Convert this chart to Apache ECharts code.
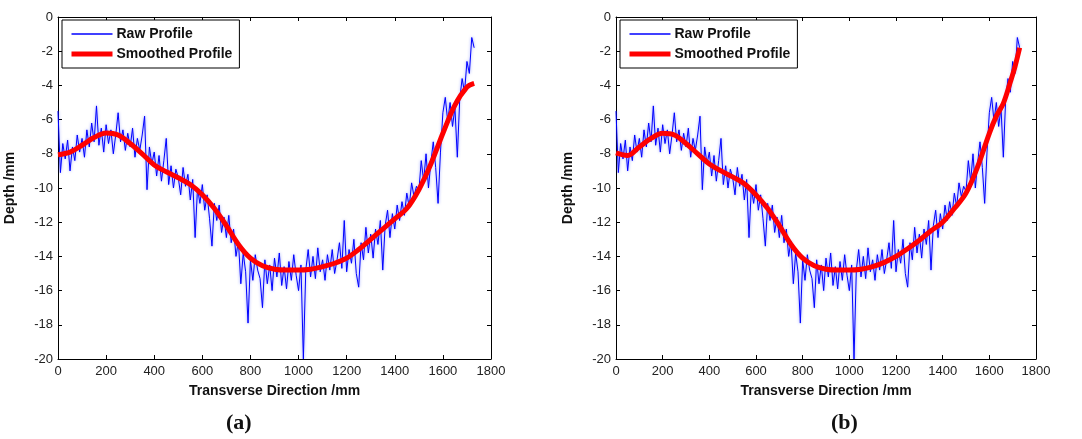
<!DOCTYPE html>
<html>
<head>
<meta charset="utf-8">
<script src="https://cdn.jsdelivr.net/npm/echarts@6/dist/echarts.min.js"></script>
<style>
html,body{margin:0;padding:0;background:#fff;}
#c{width:1082px;height:439px;}
</style>
</head>
<body>
<div id="c"></div>
<script>
// ---- data ----
const rawStep = 10; // mm between raw samples, starting at 0
const rawDepth = [
 -5.5,-9.1,-7.4,-8.3,-7.2,-9.0,-7.6,-8.4,-6.9,-7.9,
 -7.1,-8.2,-6.6,-7.6,-6.2,-7.3,-5.2,-7.5,-6.5,-7.9,
 -6.3,-7.4,-6.6,-8.0,-6.9,-5.6,-7.3,-6.6,-7.8,-6.8,
 -7.6,-6.5,-8.2,-7.1,-7.8,-6.9,-5.8,-10.1,-7.6,-8.6,
 -7.9,-9.3,-8.1,-9.6,-8.4,-7.1,-9.8,-8.7,-10.0,-8.9,
 -9.4,-10.4,-8.8,-9.9,-9.2,-10.7,-9.5,-12.9,-10.0,-10.9,
 -9.8,-11.3,-10.4,-11.8,-13.4,-10.9,-11.9,-11.0,-12.6,-11.7,
 -12.9,-11.6,-13.2,-12.4,-14.0,-13.1,-15.6,-13.8,-14.9,-17.9,
 -14.2,-15.4,-13.9,-14.8,-15.3,-17.0,-14.2,-15.6,-14.5,-16.0,
 -14.1,-15.2,-13.8,-15.7,-14.6,-15.9,-14.3,-15.4,-13.9,-15.1,
 -16.0,-14.5,-20.0,-14.8,-13.6,-15.2,-14.0,-15.3,-13.5,-14.9,
 -14.2,-15.4,-13.9,-14.8,-13.6,-15.0,-14.2,-13.2,-14.7,-11.9,
 -14.9,-13.6,-14.4,-13.0,-15.0,-15.8,-13.2,-14.2,-12.3,-13.8,
 -12.7,-14.1,-12.4,-13.3,-11.9,-14.8,-12.2,-11.3,-12.9,-11.5,
 -12.4,-11.0,-11.9,-10.8,-11.6,-10.3,-11.1,-9.7,-10.5,-9.9,
 -10.2,-8.4,-9.6,-8.0,-10.0,-8.5,-7.3,-8.8,-10.9,-7.9,
 -5.6,-4.7,-6.1,-5.0,-6.4,-5.3,-8.2,-4.8,-3.6,-4.4,
 -2.6,-3.3,-1.2,-1.8
];

const smoothAX = [0,50,100,150,200,250,300,350,400,450,500,550,600,650,700,750,800,850,900,950,1000,1050,1100,1150,1200,1250,1300,1350,1400,1450,1500,1550,1600,1650,1700,1730];
const smoothAY = [-8.05,-7.9,-7.5,-7.05,-6.78,-6.9,-7.4,-8.0,-8.65,-9.05,-9.4,-9.8,-10.4,-11.2,-12.2,-13.3,-14.1,-14.55,-14.75,-14.8,-14.8,-14.75,-14.6,-14.4,-14.1,-13.6,-13.0,-12.4,-11.8,-11.2,-10.1,-8.6,-6.8,-5.15,-4.1,-3.88];

const smoothBX = [0,25,50,100,150,200,250,300,350,400,450,500,550,600,650,700,750,800,850,900,950,1000,1050,1100,1150,1200,1250,1300,1350,1400,1450,1500,1550,1600,1630,1660,1690,1710,1730];
const smoothBY = [-7.95,-8.05,-8.1,-7.6,-7.1,-6.8,-6.9,-7.4,-8.0,-8.6,-9.0,-9.35,-9.75,-10.4,-11.2,-12.2,-13.3,-14.1,-14.55,-14.75,-14.8,-14.8,-14.75,-14.6,-14.35,-14.0,-13.55,-13.05,-12.5,-12.0,-11.2,-10.3,-8.75,-6.8,-5.8,-5.05,-3.8,-2.9,-1.8];

const xTicks = {min:0, max:1800, interval:200};
const yTicks = {min:-20, max:0, interval:2};
const seriesNames = ['Raw Profile','Smoothed Profile'];
const captions = ['(a)','(b)'];

// ---- build ----
const rawPairs = rawDepth.map((v,i)=>[i*rawStep, v]);
const smA = smoothAX.map((x,i)=>[x, smoothAY[i]]);
const smB = smoothBX.map((x,i)=>[x, smoothBY[i]]);

const FONT = '"Liberation Sans", Arial, Helvetica, sans-serif';
const grids = [
  {left:58, right:591, top:17, bottom:80},
  {left:616, right:46, top:17, bottom:80}
];
const plainNum = v => String(v);

function xAxes(g){
  return [
    {gridIndex:g, type:'value', position:'bottom', ...xTicks,
     name:'Transverse Direction /mm', nameLocation:'middle', nameGap:25,
     nameTextStyle:{fontFamily:FONT, fontWeight:'bold', fontSize:14, color:'#111'},
     axisLine:{onZero:false, lineStyle:{color:'#000', width:1}},
     axisTick:{inside:true, length:4, lineStyle:{color:'#000'}},
     axisLabel:{fontFamily:FONT, fontSize:13, color:'#222', margin:6, formatter:plainNum, showMinLabel:true, showMaxLabel:true},
     splitLine:{show:false}},
    {gridIndex:g, type:'value', position:'top', ...xTicks,
     axisLine:{onZero:false, lineStyle:{color:'#000', width:1}},
     axisTick:{inside:true, length:4, lineStyle:{color:'#000'}},
     axisLabel:{show:false}, splitLine:{show:false}}
  ];
}
function yAxes(g){
  return [
    {gridIndex:g, type:'value', position:'left', ...yTicks,
     name:'Depth /mm', nameLocation:'middle', nameGap:41, nameRotate:90,
     nameTextStyle:{fontFamily:FONT, fontWeight:'bold', fontSize:14, color:'#111'},
     axisLine:{show:true, onZero:false, lineStyle:{color:'#000', width:1}},
     axisTick:{show:true, inside:true, length:4, lineStyle:{color:'#000'}},
     axisLabel:{fontFamily:FONT, fontSize:13, color:'#222', margin:5, formatter:plainNum, showMinLabel:true, showMaxLabel:true},
     splitLine:{show:false}},
    {gridIndex:g, type:'value', position:'right', ...yTicks,
     axisLine:{show:true, onZero:false, lineStyle:{color:'#000', width:1}},
     axisTick:{show:true, inside:true, length:4, lineStyle:{color:'#000'}},
     axisLabel:{show:false}, splitLine:{show:false}}
  ];
}

function rawSeries(g){
  return {name:seriesNames[0], type:'line', xAxisIndex:g*2, yAxisIndex:g*2,
    data:rawPairs, symbol:'none', animation:false, z:2,
    lineStyle:{color:'#0000ff', width:1, shadowColor:'rgba(40,60,255,0.55)', shadowBlur:3},
    itemStyle:{color:'#0000ff'}};
}
function smoothSeries(g, data){
  return {name:seriesNames[1], type:'line', xAxisIndex:g*2, yAxisIndex:g*2,
    data:data, symbol:'none', smooth:0.35, animation:false, z:3,
    lineStyle:{color:'#ff0000', width:5}, itemStyle:{color:'#ff0000'}};
}

function legend(left){
  return {left:left, top:20, orient:'vertical',
    data:[
      {name:seriesNames[0], lineStyle:{color:'#0000ff', width:1.5}},
      {name:seriesNames[1], lineStyle:{color:'#ff0000', width:5}}
    ],
    borderColor:'#000', borderWidth:1, borderRadius:0, padding:[7,7,7,7],
    itemWidth:41, itemHeight:14, itemGap:6, backgroundColor:'#fff',
    itemStyle:{color:'rgba(0,0,0,0)', borderColor:'rgba(0,0,0,0)', borderWidth:0},
    textStyle:{fontFamily:FONT, fontWeight:'bold', fontSize:14, color:'#111', padding:[0,0,0,-1]},
    selectedMode:false};
}

const chart = echarts.init(document.getElementById('c'), null, {renderer:'canvas'});
chart.setOption({
  backgroundColor:'#fff',
  animation:false,
  grid:grids,
  xAxis:[...xAxes(0), ...xAxes(1)],
  yAxis:[...yAxes(0), ...yAxes(1)],
  legend:[legend(62), legend(620)],
  series:[rawSeries(0), smoothSeries(0, smA), rawSeries(1), smoothSeries(1, smB)],
  graphic:[
    {type:'text', left:226, top:412, style:{text:captions[0], font:'bold 22px "Liberation Serif", "DejaVu Serif", serif', fill:'#111'}},
    {type:'text', left:831, top:412, style:{text:captions[1], font:'bold 22px "Liberation Serif", "DejaVu Serif", serif', fill:'#111'}}
  ]
});
</script>
</body>
</html>
